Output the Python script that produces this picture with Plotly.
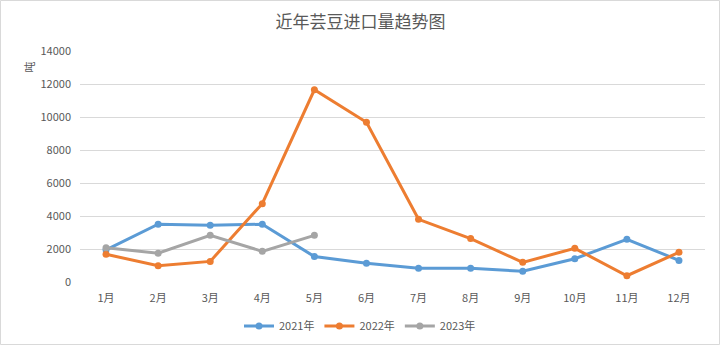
import plotly.graph_objects as go

months = ["1月", "2月", "3月", "4月", "5月", "6月", "7月", "8月", "9月", "10月", "11月", "12月"]
y2021 = [1950, 3500, 3440, 3500, 1540, 1130, 830, 830, 650, 1410, 2590, 1310]
y2022 = [1680, 990, 1250, 4750, 11650, 9680, 3800, 2630, 1190, 2040, 380, 1800]
y2023 = [2080, 1740, 2830, 1860, 2830]
y_ticks = [0, 2000, 4000, 6000, 8000, 10000, 12000, 14000]

FONT = "Noto Sans CJK SC"
TEXT = "#595959"

fig = go.Figure()
for name, vals, color in [
    ("2021年", y2021, "#5B9BD5"),
    ("2022年", y2022, "#ED7D31"),
    ("2023年", y2023, "#A5A5A5"),
]:
    fig.add_trace(go.Scatter(
        x=months[:len(vals)], y=vals, name=name, mode="lines+markers",
        line=dict(color=color, width=3),
        marker=dict(color=color, size=7, symbol="circle"),
    ))

W, H = 721, 346
L, R, T, B = 80, 16, 51, 64
pw, ph = W - L - R, H - T - B

fig.update_layout(
    width=W, height=H,
    margin=dict(l=L, r=R, t=T, b=B, autoexpand=False),
    paper_bgcolor="white", plot_bgcolor="white",
    font=dict(family=FONT, size=11, color=TEXT),
    title=dict(text="近年芸豆进口量趋势图", x=0.5, xanchor="center",
               y=1 - 22 / H, yanchor="middle",
               font=dict(family=FONT, size=17, color=TEXT)),
    showlegend=True,
    legend=dict(orientation="h", x=(360 - L) / pw, xanchor="center",
                y=-(326 - (T + ph)) / ph, yanchor="middle",
                font=dict(family=FONT, size=11, color=TEXT),
                itemwidth=30, traceorder="normal"),
    xaxis=dict(type="category", categoryorder="array", categoryarray=months,
               range=[-0.5, 11.5], showgrid=False, zeroline=False,
               showline=False, ticks="", automargin=False,
               ticklabelstandoff=8,
               tickfont=dict(size=11, color=TEXT)),
    yaxis=dict(range=[0, 14000], tickvals=y_ticks,
               ticktext=[str(v) for v in y_ticks], showgrid=True,
               gridcolor="#D9D9D9", gridwidth=1, zeroline=False,
               showline=False, ticks="", ticklabelstandoff=8, automargin=False,
               tickfont=dict(size=11, color=TEXT)),
    annotations=[dict(text="吨", xref="paper", yref="paper",
                      x=(18 - L) / pw, y=(T + ph - 60) / ph,
                      showarrow=False, textangle=-90,
                      font=dict(family=FONT, size=11, color=TEXT))],
    shapes=[dict(type="rect", xref="paper", yref="paper",
                 x0=(0.5 - L) / pw, x1=(W - 1.5 - L) / pw,
                 y0=(T + ph - (H - 1.5)) / ph, y1=(T + ph - 0.5) / ph,
                 line=dict(color="#D9D9D9", width=1), layer="below")],
)

fig.write_html("out.html")
